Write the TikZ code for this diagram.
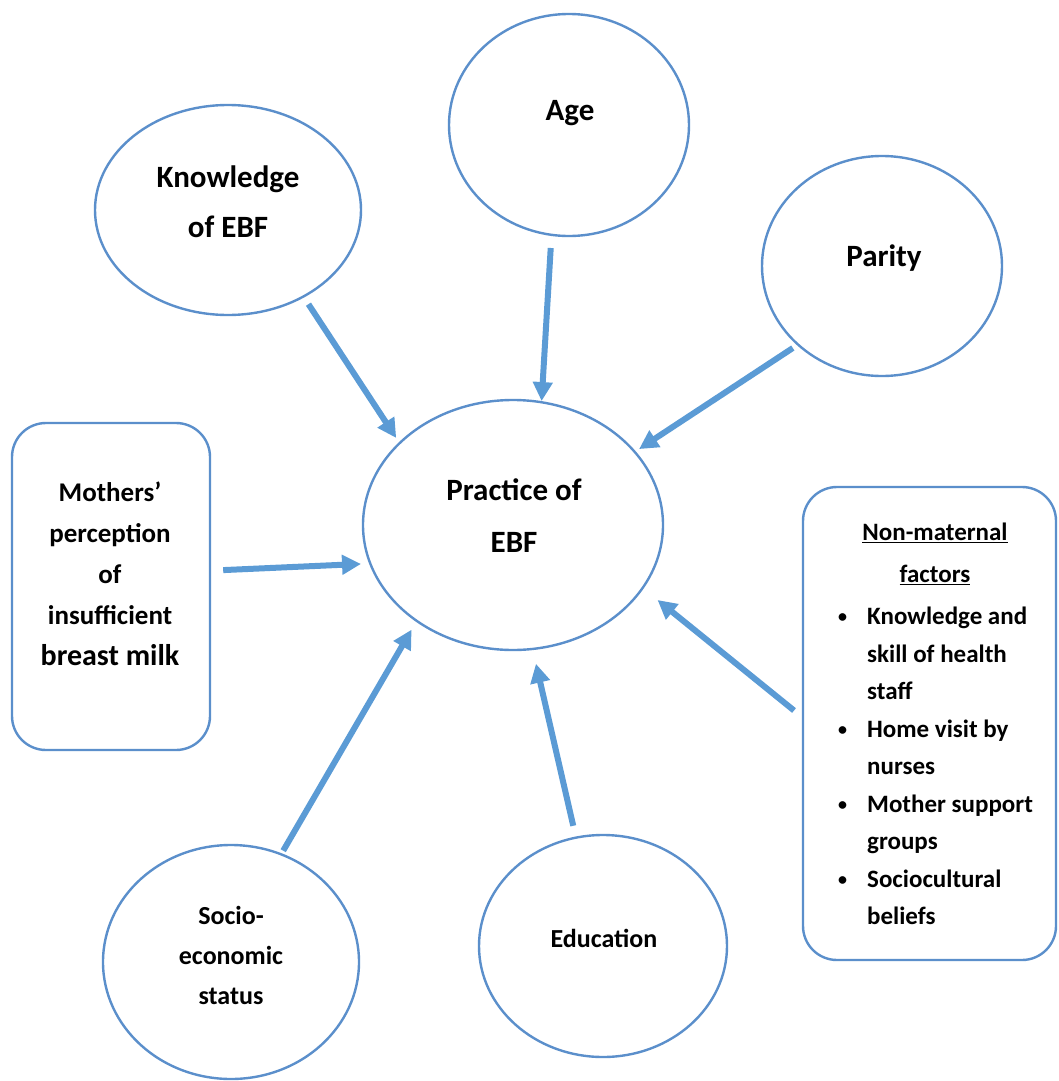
\documentclass[tikz,border=0pt]{standalone}
\usepackage{fontspec}
\setmainfont{Carlito}
\usetikzlibrary{arrows.meta,shapes.geometric}
\definecolor{arrblue}{HTML}{5B9BD5}
\definecolor{lineblue}{HTML}{5B8FCB}
\newcommand{\smallbul}{\raisebox{2pt}{\fontsize{18}{18}\selectfont\textbullet}}
\begin{document}
\begin{tikzpicture}[x=1pt,y=-1pt,
  shp/.style={draw=lineblue, line width=2.4pt, ellipse, inner sep=0pt},
  roundbox/.style={draw=lineblue, line width=2.4pt, rounded corners=34pt, inner sep=0pt},
  arr/.style={draw=arrblue, line width=6pt, -{Triangle[length=19pt,width=19pt]}},
  txt/.style={align=center, inner sep=0pt},
]
\useasboundingbox (0,0) rectangle (1059,1081);
% shapes
\node[shp, minimum width=240pt, minimum height=222pt] (age) at (569,125) {};
\node[shp, minimum width=266pt, minimum height=210pt] (kn) at (228,210) {};
\node[shp, minimum width=240pt, minimum height=220pt] (par) at (882,266) {};
\node[shp, minimum width=300pt, minimum height=250pt] (pr) at (513,525) {};
\node[shp, minimum width=256pt, minimum height=234pt] (so) at (231,962) {};
\node[shp, minimum width=248pt, minimum height=222pt] (ed) at (603,946) {};
\node[roundbox, minimum width=198pt, minimum height=327pt] (mo) at (111,586.5) {};
\node[roundbox, minimum width=253pt, minimum height=473pt] (nm) at (929.5,723.5) {};
% labels
\node[txt, font=\bfseries\fontsize{31}{50}\selectfont] (agel) at (570,113) {Age};
\node[txt, font=\bfseries\fontsize{31}{50}\selectfont] (knl) at (228,202) {Knowledge\\of EBF};
\node[txt, font=\bfseries\fontsize{31}{50}\selectfont] (parl) at (884,258) {Parity};
\node[txt, font=\bfseries\fontsize{31}{52}\selectfont] (prl) at (514,516) {Practice of\\EBF};
\node[txt, font=\bfseries\fontsize{27}{41}\selectfont] (mol) at (110,574) {Mothers’\\perception\\of\\insufficient\\{\fontsize{30}{41}\selectfont breast milk}};
\node[txt, font=\bfseries\fontsize{26}{40}\selectfont] (sol) at (231,955) {Socio-\\economic\\status};
\node[txt, font=\bfseries\fontsize{26}{40}\selectfont] (edl) at (604,938) {Education};
\node[txt, font=\bfseries\fontsize{25}{42}\selectfont] (nmt) at (935,554) {\underline{Non-maternal}\\\underline{factors}};
\node[txt, anchor=west, font=\bfseries\fontsize{25}{37.5}\selectfont] (nml) at (838,767) {%
\begin{tabular}{@{}l@{\hspace{20pt}}l@{}}
\smallbul & Knowledge and\\
 & skill of health\\
 & staff\\
\smallbul & Home visit by\\
 & nurses\\
\smallbul & Mother support\\
 & groups\\
\smallbul & Sociocultural\\
 & beliefs
\end{tabular}};
% arrows
\draw[arr, shorten <=8pt, shorten >=5pt] (kn.-49.3) -- (pr.144.2);
\draw[arr, shorten <=12pt] (age.261.6) -- (pr.77.6);
\draw[arr, shorten <=5pt, shorten >=4pt] (par.223) -- (pr.31.5);
\draw[arr, shorten <=12pt, shorten >=8pt] (mo.9.5) -- (pr.195.6);
\draw[arr, shorten <=3pt, shorten >=9pt] (so.65.1) -- (pr.225.6);
\draw[arr, shorten <=11pt, shorten >=14pt] (ed.104.6) -- (pr.279);
\draw[arr, shorten <=10pt, shorten >=18pt] (nm.177) -- (pr.-26.7);
\end{tikzpicture}
\end{document}
